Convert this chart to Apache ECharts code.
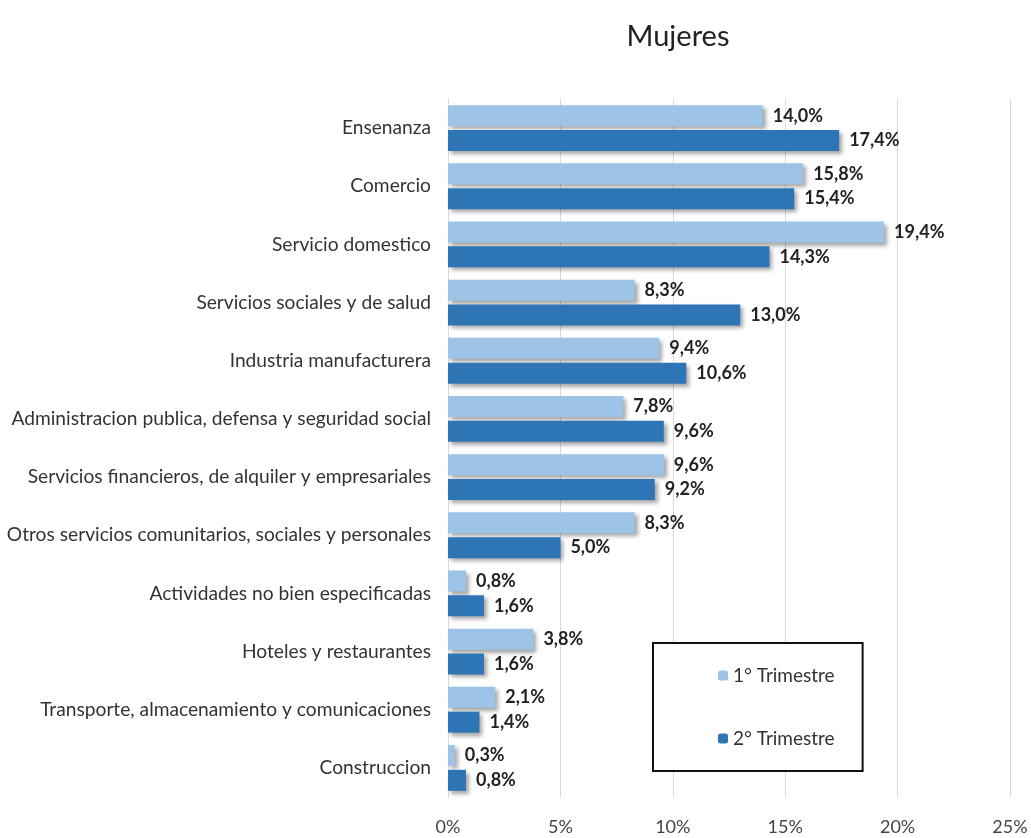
<!DOCTYPE html>
<html>
<head>
<meta charset="utf-8">
<script src="https://cdn.jsdelivr.net/npm/echarts@6/dist/echarts.min.js"></script>
<style>html,body{margin:0;padding:0;background:#fff}#c{width:1031px;height:838px}</style>
</head>
<body>
<div id="c"></div>
<script>
var categories = ["Ensenanza","Comercio","Servicio domestico","Servicios sociales y de salud","Industria manufacturera","Administracion publica, defensa y seguridad social","Servicios financieros, de alquiler y empresariales","Otros servicios comunitarios, sociales y personales","Actividades no bien especificadas","Hoteles y restaurantes","Transporte, almacenamiento y comunicaciones","Construccion"];
var trimestre1 = [14.0,15.8,19.4,8.3,9.4,7.8,9.6,8.3,0.8,3.8,2.1,0.3];
var trimestre2 = [17.4,15.4,14.3,13.0,10.6,9.6,9.2,5.0,1.6,1.6,1.4,0.8];
var seriesNames = ["1° Trimestre","2° Trimestre"];

var FONT = "Lato,'Open Sans',sans-serif";
var chart = echarts.init(document.getElementById('c'));
function lbl(p){ return p.value.toFixed(1).replace('.', ',') + '%'; }
var shadow = {shadowColor:'rgba(0,0,0,0.35)', shadowBlur:4, shadowOffsetX:3, shadowOffsetY:3};
chart.setOption({
  animation:false,
  title:{text:'Mujeres', left:673, top:17, textAlign:'center', textStyle:{fontFamily:FONT, fontSize:29, fontWeight:'normal', color:'#222'}},
  grid:{left:448, right:21, top:99, bottom:41, containLabel:false},
  legend:{
    orient:'vertical', left:653, top:643,
    padding:[23,28,23,65], itemGap:44, itemWidth:10, itemHeight:10,
    borderColor:'#111', borderWidth:2, backgroundColor:'#fff',
    textStyle:{fontFamily:FONT, fontSize:19, color:'#333'},
    data:seriesNames
  },
  xAxis:{type:'value', min:0, max:25, interval:5,
    axisLabel:{formatter:function(v){return v+'%';}, fontFamily:FONT, fontSize:18, color:'#444', margin:21},
    axisLine:{show:false}, axisTick:{show:false},
    splitLine:{lineStyle:{color:'#d9d9d9', width:1}}},
  yAxis:{type:'category', data:categories, inverse:true,
    axisLabel:{fontFamily:FONT, fontSize:19.2, color:'#333', margin:17},
    axisLine:{show:true, lineStyle:{color:'#d9d9d9'}}, axisTick:{show:false}},
  series:[
    {name:seriesNames[0], type:'bar', data:trimestre1, barWidth:21, barGap:'18%',
     itemStyle:Object.assign({color:'#9dc3e6'}, shadow),
     label:{show:true, position:'right', distance:10, formatter:lbl, fontFamily:FONT, fontSize:18, fontWeight:'bold', color:'#222'}},
    {name:seriesNames[1], type:'bar', data:trimestre2, barWidth:21,
     itemStyle:Object.assign({color:'#2e75b6'}, shadow),
     label:{show:true, position:'right', distance:10, formatter:lbl, fontFamily:FONT, fontSize:18, fontWeight:'bold', color:'#222'}}
  ]
});
</script>
</body>
</html>
